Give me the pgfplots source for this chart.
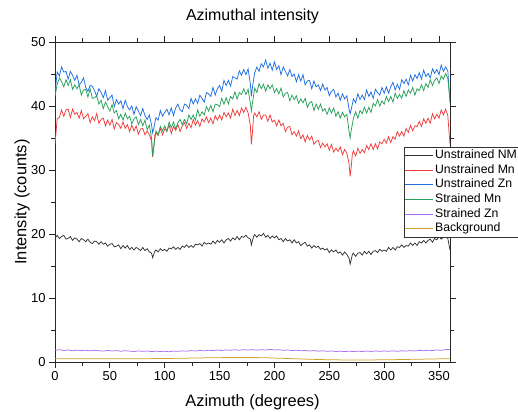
\documentclass[border=0pt]{standalone}
\usepackage{fontspec}
\setmainfont{Liberation Sans}
\usepackage{pgfplots}
\pgfplotsset{compat=1.18}
\definecolor{cNM}{RGB}{50,50,50}
\definecolor{cMn}{RGB}{240,60,60}
\definecolor{cZn}{RGB}{30,110,225}
\definecolor{cSMn}{RGB}{40,160,90}
\definecolor{cSZn}{RGB}{170,110,240}
\definecolor{cBg}{RGB}{210,160,40}
\begin{document}
\begin{tikzpicture}
\begin{axis}[name=ax, at={(0,0)}, anchor=south west, scale only axis,
  width=395bp, height=320bp,
  xmin=0, xmax=360, ymin=0, ymax=50,
  xtick={0,50,...,350}, minor x tick num=1,
  ytick={0,10,...,50}, minor y tick num=1,
  tick align=outside, major tick length=6bp, minor tick length=3.5bp,
  axis line style={black!85, line width=0.8bp},
  every tick/.style={black!85, line width=0.8bp},
  tick label style={font=\fontsize{13}{15}\selectfont},
  /pgf/number format/assume math mode=true,
  title={Azimuthal intensity},
  title style={at={(axis description cs:0.5,1.0625)}, anchor=center, font=\fontsize{16}{18}\selectfont},
  xlabel={Azimuth (degrees)},
  xlabel style={at={(axis description cs:0.5,-0.125)}, anchor=center, font=\fontsize{16.5}{18}\selectfont},
  ylabel={Intensity (counts)},
  ylabel style={at={(axis description cs:-0.0835,0.5)}, anchor=center, font=\fontsize{16.5}{18}\selectfont},
  legend style={at={(axis description cs:0.8835,0.672)}, anchor=north west, draw=black!80, line width=0.8bp,
    font=\fontsize{12.3}{14}\selectfont, inner xsep=0pt, inner ysep=1bp, row sep=0pt,
    nodes={text height=9bp, text depth=3bp, inner ysep=1.3bp, inner xsep=2bp}},
  legend cell align=left,
  legend image code/.code={\draw[#1] (0bp,0bp) -- (28bp,0bp);},
  every axis plot/.append style={line width=0.75bp, mark=none},
]
\addplot[cNM] coordinates {(0,19.3)(2,19.8)(4,19.3)(6,19.6)(8,19.8)(10,19.2)(12,19.3)(14,19.6)(16,19.0)(18,19.4)(20,19.2)(22,18.8)(24,19.3)(26,19.1)(28,18.8)(30,19.2)(32,18.7)(34,18.5)(36,18.9)(38,18.8)(40,18.4)(42,18.8)(44,18.4)(46,18.6)(48,18.1)(50,18.4)(52,18.5)(54,18.0)(56,18.1)(58,18.3)(60,17.7)(62,18.2)(64,17.8)(66,18.2)(68,17.6)(70,17.9)(72,17.5)(74,17.9)(76,17.7)(78,17.4)(80,17.9)(82,17.4)(84,17.7)(86,17.2)(88,17.0)(89,16.3)(90,16.8)(91,17.3)(92,17.5)(94,17.2)(96,17.7)(98,17.4)(100,17.6)(102,17.3)(104,17.8)(106,17.7)(108,18.0)(110,17.6)(112,17.9)(114,17.6)(116,18.1)(118,17.9)(120,18.3)(122,17.9)(124,18.2)(126,17.9)(128,18.4)(130,18.3)(132,18.5)(134,18.1)(136,18.7)(138,18.4)(140,18.6)(142,18.4)(144,18.9)(146,18.5)(148,19.0)(150,18.7)(152,19.1)(154,18.6)(156,19.1)(158,19.3)(160,18.9)(162,19.4)(164,19.1)(166,19.6)(168,19.1)(170,19.6)(172,19.5)(174,19.8)(176,19.4)(178,19.2)(179,18.3)(180,19.0)(181,19.6)(182,19.9)(184,19.5)(186,19.9)(188,19.7)(190,20.1)(192,19.5)(194,19.8)(196,19.3)(198,19.7)(200,19.4)(202,19.7)(204,19.1)(206,19.3)(208,18.8)(210,19.3)(212,18.9)(214,19.1)(216,18.6)(218,19.1)(220,18.6)(222,18.8)(224,18.2)(226,18.5)(228,18.7)(230,18.1)(232,18.3)(234,17.8)(236,18.2)(238,17.9)(240,18.1)(242,17.6)(244,17.8)(246,17.5)(248,17.7)(250,17.1)(252,17.5)(254,17.2)(256,17.5)(258,17.0)(260,17.2)(262,16.7)(264,17.2)(266,16.8)(268,16.2)(269,15.3)(270,16.0)(271,16.8)(272,17.0)(274,16.5)(276,17.0)(278,17.1)(280,16.7)(282,17.3)(284,16.9)(286,17.3)(288,16.8)(290,17.3)(292,17.4)(294,17.1)(296,17.6)(298,17.3)(300,17.5)(302,17.3)(304,17.9)(306,17.5)(308,17.9)(310,17.5)(312,18.0)(314,17.9)(316,18.3)(318,17.9)(320,18.2)(322,18.1)(324,18.6)(326,18.2)(328,18.6)(330,18.2)(332,18.8)(334,18.6)(336,19.0)(338,18.6)(340,19.0)(342,19.2)(344,18.7)(346,19.3)(348,19.1)(350,19.6)(352,19.2)(354,19.5)(356,19.7)(358,19.3)(360,17.5)};
\addlegendentry{Unstrained NM}
\addplot[cMn] coordinates {(0,34.0)(2,38.0)(4,38.2)(6,39.4)(8,38.4)(10,39.4)(12,39.5)(14,38.2)(16,39.5)(18,38.7)(20,39.0)(22,38.1)(24,39.3)(26,38.0)(28,38.4)(30,38.8)(32,37.4)(34,38.3)(36,37.7)(38,38.8)(40,37.3)(42,37.9)(44,38.1)(46,36.9)(48,37.8)(50,37.0)(52,37.9)(54,36.4)(56,37.4)(58,37.1)(60,36.5)(62,37.5)(64,36.5)(66,37.1)(68,36.0)(70,37.0)(72,36.1)(74,36.9)(76,35.6)(78,36.4)(80,36.5)(82,35.5)(84,36.1)(86,35.5)(88,34.5)(89,32.0)(90,33.5)(91,35.5)(92,35.8)(94,35.4)(96,36.5)(98,35.5)(100,36.4)(102,36.1)(104,37.0)(106,35.7)(108,36.8)(110,36.2)(112,37.1)(114,36.0)(116,36.9)(118,37.4)(120,36.5)(122,37.3)(124,36.6)(126,37.9)(128,37.0)(130,37.7)(132,36.8)(134,38.0)(136,37.5)(138,38.3)(140,37.4)(142,38.1)(144,37.2)(146,38.5)(148,37.8)(150,38.6)(152,37.8)(154,39.0)(156,38.3)(158,38.9)(160,38.1)(162,39.5)(164,38.5)(166,39.3)(168,38.5)(170,39.7)(172,39.0)(174,39.8)(176,38.9)(178,37.0)(179,34.0)(180,36.0)(181,38.5)(182,38.9)(184,38.3)(186,39.1)(188,37.9)(190,38.6)(192,38.6)(194,37.6)(196,38.6)(198,37.5)(200,37.8)(202,36.9)(204,37.8)(206,36.9)(208,37.3)(210,36.0)(212,36.7)(214,36.8)(216,35.5)(218,36.0)(220,35.3)(222,36.1)(224,34.9)(226,35.5)(228,34.4)(230,35.4)(232,34.7)(234,35.3)(236,34.0)(238,34.5)(240,34.6)(242,33.5)(244,34.2)(246,33.6)(248,34.1)(250,33.1)(252,34.0)(254,32.8)(256,33.4)(258,32.9)(260,33.6)(262,32.4)(264,33.2)(266,32.6)(268,31.0)(269,29.0)(270,30.5)(271,32.5)(272,33.0)(274,32.2)(276,33.4)(278,32.6)(280,33.2)(282,32.7)(284,33.8)(286,33.2)(288,34.1)(290,33.2)(292,34.1)(294,33.3)(296,34.4)(298,34.1)(300,34.8)(302,34.2)(304,35.2)(306,34.3)(308,35.2)(310,34.8)(312,36.0)(314,35.3)(316,36.0)(318,35.3)(320,36.5)(322,35.9)(324,37.0)(326,36.1)(328,36.9)(330,36.8)(332,37.6)(334,36.8)(336,38.0)(338,37.3)(340,38.1)(342,37.3)(344,38.8)(346,38.0)(348,38.7)(350,38.1)(352,39.4)(354,38.6)(356,39.5)(358,38.5)(360,34.0)};
\addlegendentry{Unstrained Mn}
\addplot[cZn] coordinates {(0,42.0)(2,45.3)(4,44.7)(6,46.1)(8,45.3)(10,45.4)(12,44.2)(14,45.4)(16,44.8)(18,44.0)(20,44.8)(22,43.3)(24,43.7)(26,44.4)(28,42.9)(30,42.3)(32,43.2)(34,43.1)(36,42.4)(38,41.5)(40,42.7)(42,42.1)(44,41.3)(46,42.4)(48,40.9)(50,41.3)(52,41.7)(54,39.9)(56,41.0)(58,40.3)(60,40.8)(62,39.6)(64,40.9)(66,39.9)(68,39.4)(70,40.0)(72,38.7)(74,39.9)(76,39.2)(78,38.5)(80,39.6)(82,38.5)(84,37.9)(86,38.6)(88,37.0)(89,35.8)(90,36.5)(92,38.2)(94,37.8)(96,39.3)(98,38.4)(100,39.0)(102,39.5)(104,38.6)(106,39.7)(108,38.5)(110,39.7)(112,40.3)(114,39.4)(116,39.1)(118,40.3)(120,40.1)(122,39.6)(124,41.2)(126,40.3)(128,41.1)(130,40.4)(132,41.7)(134,41.2)(136,40.6)(138,42.1)(140,41.9)(142,41.5)(144,42.9)(146,41.7)(148,42.7)(150,43.2)(152,42.3)(154,44.0)(156,43.2)(158,44.0)(160,43.1)(162,44.6)(164,44.4)(166,44.2)(168,45.5)(170,44.8)(172,45.7)(174,44.9)(176,45.8)(178,43.5)(179,41.5)(180,43.0)(182,45.2)(184,46.1)(186,45.4)(188,46.6)(190,46.1)(192,47.2)(194,45.9)(196,46.7)(198,45.6)(200,46.9)(202,45.7)(204,46.3)(206,44.9)(208,46.1)(210,45.4)(212,44.7)(214,45.7)(216,44.6)(218,45.0)(220,43.8)(222,44.9)(224,43.9)(226,44.9)(228,43.3)(230,43.9)(232,44.0)(234,42.7)(236,43.9)(238,43.0)(240,43.3)(242,42.4)(244,43.4)(246,42.5)(248,42.9)(250,41.6)(252,42.3)(254,42.6)(256,41.4)(258,42.0)(260,40.9)(262,41.9)(264,41.1)(266,41.6)(268,39.5)(269,38.8)(270,39.5)(272,41.1)(274,40.5)(276,41.9)(278,41.0)(280,41.7)(282,41.0)(284,42.5)(286,41.5)(288,42.2)(290,41.2)(292,42.6)(294,42.1)(296,41.7)(298,42.9)(300,42.0)(302,43.0)(304,42.0)(306,43.0)(308,43.7)(310,42.5)(312,43.4)(314,42.6)(316,44.1)(318,43.5)(320,44.2)(322,43.3)(324,44.8)(326,43.9)(328,44.9)(330,44.3)(332,45.2)(334,44.2)(336,45.6)(338,44.6)(340,45.1)(342,44.4)(344,45.8)(346,45.1)(348,45.7)(350,44.9)(352,46.4)(354,45.4)(356,46.1)(358,45.5)(360,40.5)};
\addlegendentry{Unstrained Zn}
\addplot[cSMn] coordinates {(0,41.5)(2,43.4)(4,44.4)(6,43.8)(8,43.0)(10,44.1)(12,43.2)(14,44.1)(16,42.6)(18,43.3)(20,42.7)(22,43.3)(24,41.7)(26,42.5)(28,42.6)(30,41.4)(32,42.7)(34,41.2)(36,41.3)(38,41.6)(40,40.3)(42,40.9)(44,39.6)(46,40.6)(48,39.9)(50,39.2)(52,40.2)(54,38.9)(56,39.3)(58,38.0)(60,38.7)(62,37.8)(64,38.9)(66,38.0)(68,38.4)(70,37.2)(72,38.0)(74,38.3)(76,37.1)(78,37.9)(80,36.9)(82,37.8)(84,36.3)(86,37.0)(88,35.0)(89,32.2)(90,33.5)(92,36.1)(94,35.5)(96,36.8)(98,36.1)(100,36.9)(102,36.0)(104,37.5)(106,36.6)(108,37.5)(110,36.4)(112,37.4)(114,37.9)(116,37.1)(118,37.9)(120,37.2)(122,38.6)(124,37.9)(126,38.6)(128,37.8)(130,39.4)(132,38.4)(134,39.1)(136,38.6)(138,39.9)(140,39.2)(142,40.1)(144,39.1)(146,40.3)(148,40.2)(150,39.9)(152,41.2)(154,40.3)(156,41.3)(158,40.3)(160,41.5)(162,41.1)(164,42.2)(166,41.1)(168,42.1)(170,41.8)(172,42.7)(174,41.8)(176,42.6)(178,40.5)(179,39.2)(180,40.5)(182,42.8)(184,42.1)(186,43.5)(188,42.7)(190,43.4)(192,42.3)(194,43.3)(196,42.7)(198,43.3)(200,42.1)(202,42.7)(204,41.9)(206,42.8)(208,41.4)(210,42.0)(212,42.1)(214,40.8)(216,41.7)(218,41.0)(220,41.6)(222,40.4)(224,41.1)(226,40.5)(228,41.2)(230,39.8)(232,40.5)(234,40.7)(236,39.3)(238,40.3)(240,39.5)(242,40.3)(244,39.2)(246,39.6)(248,38.7)(250,39.7)(252,38.9)(254,39.7)(256,38.4)(258,39.1)(260,38.1)(262,39.0)(264,38.3)(266,38.7)(268,36.0)(269,35.0)(270,36.2)(272,38.1)(274,39.1)(276,38.1)(278,39.3)(280,38.8)(282,39.8)(284,38.9)(286,39.8)(288,39.0)(290,40.4)(292,40.0)(294,41.0)(296,40.0)(298,40.8)(300,40.3)(302,41.5)(304,40.7)(306,41.5)(308,40.6)(310,42.0)(312,41.2)(314,41.8)(316,41.2)(318,42.4)(320,41.5)(322,42.5)(324,42.0)(326,42.9)(328,41.7)(330,42.7)(332,42.4)(334,43.3)(336,42.4)(338,43.5)(340,42.9)(342,44.1)(344,43.2)(346,44.0)(348,44.4)(350,43.5)(352,44.7)(354,44.2)(356,45.1)(358,44.3)(360,41.0)};
\addlegendentry{Strained Mn}
\addplot[cSZn] coordinates {(0,1.85)(4,1.92)(8,1.80)(12,1.88)(16,1.76)(20,1.86)(24,1.79)(28,1.84)(32,1.74)(36,1.83)(40,1.76)(44,1.71)(48,1.80)(52,1.72)(56,1.78)(60,1.68)(64,1.76)(68,1.70)(72,1.64)(76,1.73)(80,1.66)(84,1.72)(88,1.62)(92,1.70)(96,1.64)(100,1.68)(104,1.60)(108,1.71)(112,1.66)(116,1.74)(120,1.69)(124,1.78)(128,1.72)(132,1.80)(136,1.75)(140,1.84)(144,1.78)(148,1.87)(152,1.80)(156,1.89)(160,1.83)(164,1.91)(168,1.84)(172,1.92)(176,1.86)(180,1.94)(184,1.85)(188,1.93)(192,1.87)(196,1.98)(200,1.88)(204,1.92)(208,1.83)(212,1.88)(216,1.79)(220,1.84)(224,1.76)(228,1.80)(232,1.72)(236,1.78)(240,1.69)(244,1.75)(248,1.67)(252,1.72)(256,1.64)(260,1.70)(264,1.62)(268,1.69)(272,1.63)(276,1.70)(280,1.64)(284,1.71)(288,1.65)(292,1.72)(296,1.66)(300,1.73)(304,1.67)(308,1.74)(312,1.68)(316,1.75)(320,1.70)(324,1.78)(328,1.73)(332,1.81)(336,1.76)(340,1.84)(344,1.79)(348,1.88)(352,1.83)(356,1.93)(360,1.98)};
\addlegendentry{Strained Zn}
\addplot[cBg] coordinates {(0,0.50)(10,0.50)(20,0.50)(30,0.49)(40,0.49)(50,0.50)(60,0.50)(70,0.51)(80,0.52)(90,0.53)(100,0.55)(110,0.57)(120,0.60)(130,0.63)(140,0.66)(150,0.68)(160,0.70)(170,0.71)(180,0.70)(190,0.67)(200,0.62)(210,0.56)(220,0.50)(230,0.44)(240,0.39)(250,0.35)(260,0.33)(270,0.32)(280,0.32)(290,0.33)(300,0.34)(310,0.37)(320,0.40)(330,0.43)(340,0.46)(350,0.49)(360,0.50)};
\addlegendentry{Background}
\end{axis}
\pgfresetboundingbox
\path[use as bounding box] (-55bp,-50bp) rectangle (463bp,362bp);
\end{tikzpicture}
\end{document}
